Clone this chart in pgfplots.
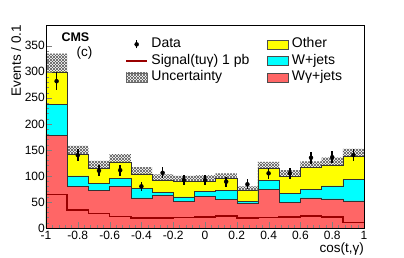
\documentclass[border=0pt]{standalone}
\usepackage{fontspec}
\setmainfont{Liberation Sans}
\usepackage{pgfplots}
\pgfplotsset{compat=1.18}
\usepgfplotslibrary{fillbetween}
\usetikzlibrary{patterns}
\definecolor{cmsyellow}{RGB}{255,255,0}
\definecolor{cmscyan}{RGB}{0,255,255}
\definecolor{cmsred}{RGB}{255,102,102}
\definecolor{sigred}{RGB}{153,0,0}
\begin{document}
\begin{tikzpicture}
\begin{axis}[
  scale only axis, width=318pt, height=203pt,
  xmin=-1, xmax=1, ymin=0, ymax=390,
  axis on top, tick pos=left, tick align=inside,
  xtick={-1,-0.8,-0.6,-0.4,-0.2,0,0.2,0.4,0.6,0.8,1},
  xticklabels={-1,-0.8,-0.6,-0.4,-0.2,0,0.2,0.4,0.6,0.8,1},
  ytick={0,50,100,150,200,250,300,350},
  minor x tick num=4, minor y tick num=4,
  major tick length=6pt, minor tick length=3pt,
  /pgf/number format/assume math mode=true,
  font=\fontsize{12}{14}\selectfont,
  yticklabel style={inner sep=1pt},
  xticklabel style={inner sep=1pt, yshift=-2pt},
  xlabel={cos(t,γ)}, ylabel={Events / 0.1},
  xlabel style={at={(axis description cs:1,0)}, anchor=north east, yshift=-15pt, inner sep=0pt, font=\fontsize{13.5}{15}\selectfont},
  ylabel style={at={(axis description cs:-0.094,1)}, anchor=east, inner sep=0pt, font=\fontsize{13.5}{15}\selectfont},
  legend columns=2,
  legend cell align=left,
  legend style={at={(axis description cs:0.249,0.94)}, anchor=north west, draw=none, fill=none,
    inner sep=0pt, font=\fontsize{14}{16}\selectfont, row sep=2.5pt,
    nodes={inner sep=0.5pt, text height=10pt, text depth=3pt},
    /tikz/column 1/.style={column sep=3pt},
    /tikz/column 3/.style={column sep=3pt},
    /tikz/column 2/.style={column sep=17pt}},
]
\addlegendimage{legend image code/.code={\draw[black, line width=1.5pt] (0.37cm,-0.14cm) -- (0.37cm,0.14cm); \fill[black] (0.37cm,0cm) circle (2pt);}}
\addlegendentry{Data}
\addlegendimage{legend image code/.code={\draw[black!70, fill=cmsyellow] (0cm,-0.16cm) rectangle (0.74cm,0.16cm);}}
\addlegendentry{Other}
\addlegendimage{legend image code/.code={\draw[sigred, line width=1.5pt] (0cm,0cm) -- (0.74cm,0cm);}}
\addlegendentry{Signal(tuγ) 1 pb}
\addlegendimage{legend image code/.code={\draw[black!70, fill=cmscyan] (0cm,-0.16cm) rectangle (0.74cm,0.16cm);}}
\addlegendentry{W+jets}
\addlegendimage{legend image code/.code={\fill[pattern=north east lines, pattern color=black!65] (0cm,-0.16cm) rectangle (0.74cm,0.16cm); \fill[pattern=north west lines, pattern color=black!65] (0cm,-0.16cm) rectangle (0.74cm,0.16cm); \draw[black!60] (0cm,-0.16cm) rectangle (0.74cm,0.16cm);}}
\addlegendentry{Uncertainty}
\addlegendimage{legend image code/.code={\draw[black!70, fill=cmsred] (0cm,-0.16cm) rectangle (0.74cm,0.16cm);}}
\addlegendentry{Wγ+jets}

% Other (cumulative total)
\addplot[const plot mark left, fill=cmsyellow, draw=black!80, line width=0.5pt, forget plot] coordinates {
(-1,300) (-0.8667,142) (-0.7333,115) (-0.6,127) (-0.4667,104) (-0.3333,91) (-0.2,90) (-0.0667,89)
(0.0667,95) (0.2,72) (0.3333,114) (0.4667,99) (0.6,116) (0.7333,121) (0.8667,137) (1,137)} \closedcycle;
% W+jets (cumulative)
\addplot[const plot mark left, fill=cmscyan, draw=black!80, line width=0.5pt, forget plot] coordinates {
(-1,237) (-0.8667,100) (-0.7333,86) (-0.6,95) (-0.4667,76) (-0.3333,68) (-0.2,60) (-0.0667,71)
(0.0667,72) (0.2,51) (0.3333,91) (0.4667,67) (0.6,74) (0.7333,81) (0.8667,94) (1,94)} \closedcycle;
% Wgamma+jets
\addplot[const plot mark left, fill=cmsred, draw=black!80, line width=0.5pt, forget plot] coordinates {
(-1,178) (-0.8667,80) (-0.7333,72) (-0.6,80) (-0.4667,58) (-0.3333,62) (-0.2,51) (-0.0667,61)
(0.0667,55) (0.2,48) (0.3333,74) (0.4667,49) (0.6,58) (0.7333,56) (0.8667,52) (1,52)} \closedcycle;
% Signal
\addplot[const plot mark left, draw=sigred, line width=1.5pt, forget plot] coordinates {
(-1,64) (-0.8667,35) (-0.7333,28) (-0.6,22) (-0.4667,19) (-0.3333,19) (-0.2,20) (-0.0667,21)
(0.0667,23) (0.2,19) (0.3333,20) (0.4667,21) (0.6,23) (0.7333,21) (0.8667,11) (1,11)};
% Uncertainty band
\addplot[name path=up, draw=none, const plot mark left, forget plot] coordinates {
(-1,335) (-0.8667,158) (-0.7333,129) (-0.6,142) (-0.4667,117) (-0.3333,103) (-0.2,100) (-0.0667,101)
(0.0667,105) (0.2,80) (0.3333,127) (0.4667,111) (0.6,128) (0.7333,135) (0.8667,152) (1,152)};
\addplot[name path=lo, draw=none, const plot mark left, forget plot] coordinates {
(-1,265) (-0.8667,126) (-0.7333,101) (-0.6,112) (-0.4667,91) (-0.3333,79) (-0.2,80) (-0.0667,77)
(0.0667,85) (0.2,64) (0.3333,101) (0.4667,87) (0.6,104) (0.7333,107) (0.8667,122) (1,122)};
\addplot[pattern=north east lines, pattern color=black!65, draw=none, forget plot] fill between[of=up and lo];
\addplot[pattern=north west lines, pattern color=black!65, draw=none, forget plot] fill between[of=up and lo];
% Data
\addplot[forget plot, only marks, mark=*, mark size=2pt, black,
  error bars/.cd, y dir=both, y explicit, error mark=none, error bar style={line width=1.5pt}]
coordinates {
(-0.9333,282) +- (0,16.8)
(-0.8,140) +- (0,11.8)
(-0.6667,110) +- (0,10.5)
(-0.5333,111) +- (0,10.5)
(-0.4,80) +- (0,8.9)
(-0.2667,106) +- (0,10.3)
(-0.1333,92) +- (0,9.6)
(0,92) +- (0,9.6)
(0.1333,89) +- (0,9.4)
(0.2667,84) +- (0,9.2)
(0.4,105) +- (0,10.2)
(0.5333,105) +- (0,10.2)
(0.6667,135) +- (0,11.6)
(0.8,136) +- (0,11.7)
(0.9333,140) +- (0,11.8)
};
\node[anchor=base west, font=\bfseries\fontsize{12.5}{14}\selectfont] at (rel axis cs:0,1) [xshift=12pt, yshift=-17pt] {CMS};
\node[anchor=base west, font=\fontsize{13.5}{15}\selectfont] at (rel axis cs:0,1) [xshift=27pt, yshift=-32pt] {(c)};
\node[anchor=base east, font=\fontsize{13}{15}\selectfont] at (rel axis cs:1,1) [xshift=-5pt, yshift=8pt] {19.8 fb\textsuperscript{-1} (8 TeV)};
\coordinate (bl) at (rel axis cs:0,0);
\coordinate (tr) at (rel axis cs:1,1);
\end{axis}
\pgfresetboundingbox
\path ([shift={(-46pt,-30pt)}]bl) rectangle ([shift={(40pt,25pt)}]tr);
\end{tikzpicture}
\end{document}
